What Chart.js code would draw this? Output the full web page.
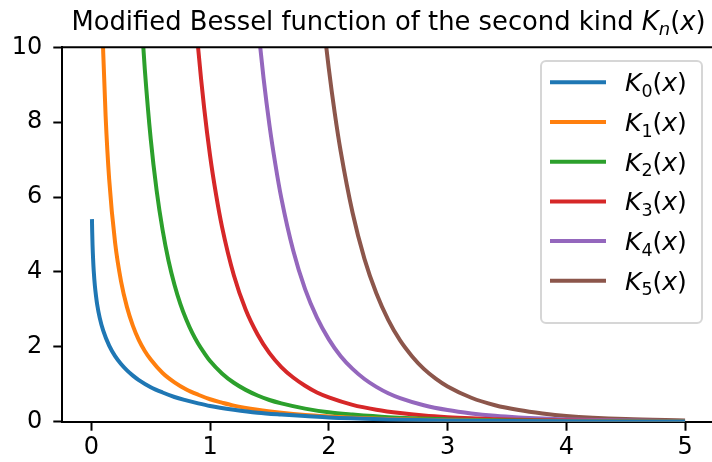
<!DOCTYPE html>
<html>
<head>
<meta charset="utf-8">
<title>Modified Bessel function of the second kind</title>
<script src="https://cdn.jsdelivr.net/npm/chart.js@4.4.1/dist/chart.umd.min.js"></script>
<style>
  html, body { margin: 0; padding: 0; background: #fff; overflow: hidden; }
  #wrap { width: 720px; height: 462px; }
</style>
</head>
<body>
<div id="wrap"><canvas id="chart" width="720" height="462"></canvas></div>
<script>
// --- Data ---
const k0X = [0.005, 0.007, 0.01, 0.015, 0.02, 0.03, 0.04, 0.05, 0.07, 0.1, 0.15, 0.2, 0.25, 0.3, 0.35, 0.4, 0.5, 0.6, 0.7, 0.8, 0.9, 1.0, 1.2, 1.4, 1.6, 1.8, 2.0, 2.5, 3.0, 3.5, 4.0, 4.5, 5.0];
const k0Y = [5.41, 5.08, 4.72, 4.32, 4.03, 3.62, 3.34, 3.11, 2.78, 2.43, 2.03, 1.75, 1.54, 1.37, 1.23, 1.11, 0.92, 0.78, 0.66, 0.57, 0.49, 0.42, 0.32, 0.24, 0.19, 0.15, 0.11, 0.062, 0.035, 0.020, 0.011, 0.0064, 0.0037];

const k1X = [0.09, 0.1, 0.12, 0.15, 0.2, 0.25, 0.3, 0.35, 0.4, 0.45, 0.5, 0.6, 0.7, 0.8, 0.9, 1.0, 1.1, 1.2, 1.4, 1.6, 1.8, 2.0, 2.2, 2.5, 3.0, 3.5, 4.0, 4.5, 5.0];
const k1Y = [10.97, 9.85, 8.17, 6.48, 4.78, 3.75, 3.06, 2.56, 2.18, 1.89, 1.66, 1.30, 1.05, 0.86, 0.72, 0.60, 0.51, 0.43, 0.32, 0.24, 0.18, 0.14, 0.108, 0.074, 0.040, 0.022, 0.0125, 0.0071, 0.0040];

const k2X = [0.42, 0.45, 0.5, 0.55, 0.6, 0.65, 0.7, 0.75, 0.8, 0.85, 0.9, 0.95, 1.0, 1.1, 1.2, 1.3, 1.4, 1.5, 1.6, 1.8, 2.0, 2.2, 2.5, 3.0, 3.5, 4.0, 4.5, 5.0];
const k2Y = [10.85, 9.42, 7.55, 6.17, 5.12, 4.30, 3.66, 3.14, 2.72, 2.37, 2.08, 1.84, 1.62, 1.29, 1.04, 0.85, 0.70, 0.58, 0.49, 0.35, 0.25, 0.19, 0.12, 0.062, 0.032, 0.017, 0.0095, 0.0053];

const k3X = [0.85, 0.9, 0.95, 1.0, 1.05, 1.1, 1.2, 1.3, 1.4, 1.5, 1.6, 1.7, 1.8, 1.9, 2.0, 2.2, 2.4, 2.6, 2.8, 3.0, 3.2, 3.4, 3.6, 3.8, 4.0, 4.5, 5.0];
const k3Y = [11.95, 9.96, 8.38, 7.10, 6.07, 5.21, 3.91, 2.99, 2.33, 1.83, 1.46, 1.18, 0.96, 0.78, 0.65, 0.45, 0.32, 0.23, 0.166, 0.122, 0.091, 0.068, 0.052, 0.039, 0.030, 0.0155, 0.0083];

const k4X = [1.4, 1.45, 1.5, 1.55, 1.6, 1.7, 1.8, 1.9, 2.0, 2.1, 2.2, 2.3, 2.4, 2.5, 2.6, 2.8, 3.0, 3.2, 3.4, 3.6, 3.8, 4.0, 4.5, 5.0];
const k4Y = [10.68, 9.18, 7.92, 6.87, 5.97, 4.57, 3.54, 2.78, 2.20, 1.75, 1.41, 1.14, 0.93, 0.76, 0.63, 0.44, 0.31, 0.22, 0.157, 0.114, 0.084, 0.062, 0.030, 0.015];

const k5X = [1.9, 1.95, 2.0, 2.05, 2.1, 2.2, 2.3, 2.4, 2.5, 2.6, 2.7, 2.8, 2.9, 3.0, 3.2, 3.4, 3.6, 3.8, 4.0, 4.5, 5.0];
const k5Y = [12.47, 10.83, 9.43, 8.24, 7.22, 5.58, 4.35, 3.43, 2.72, 2.17, 1.75, 1.41, 1.15, 0.94, 0.64, 0.44, 0.31, 0.22, 0.155, 0.069, 0.033];

const seriesOrder = ['0', '1', '2', '3', '4', '5'];
const seriesColors = ['#1f77b4', '#ff7f0e', '#2ca02c', '#d62728', '#9467bd', '#8c564b'];
const xTicks = [0, 1, 2, 3, 4, 5];
const yTicks = [0, 2, 4, 6, 8, 10];

const FONT = "'DejaVu Sans', sans-serif";

// --- Helpers ---
const toPoints = (xs, ys) => xs.map((x, i) => ({ x: x, y: ys[i] }));

// draws a run of text parts: { t, italic, sub }
function drawMath(ctx, parts, x, y, size) {
    let cx = x;
    parts.forEach(p => {
        const s = p.sub ? size * 0.7 : size;
        ctx.font = `${p.italic ? 'italic ' : ''}${s}px ${FONT}`;
        ctx.fillText(p.t, cx, y + (p.sub ? size * 0.22 : 0));
        cx += ctx.measureText(p.t).width;
    });
    return cx - x;
}

function measureMath(ctx, parts, size) {
    let w = 0;
    parts.forEach(p => {
        const s = p.sub ? size * 0.7 : size;
        ctx.font = `${p.italic ? 'italic ' : ''}${s}px ${FONT}`;
        w += ctx.measureText(p.t).width;
    });
    return w;
}

// --- Plugins ---
const framePlugin = {
    id: 'frame',
    afterDatasetsDraw(chart) {
        const { ctx, chartArea } = chart;
        ctx.save();
        ctx.strokeStyle = '#000';
        ctx.lineWidth = 2;
        ctx.beginPath();
        ctx.moveTo(chartArea.left - 1, chartArea.top);
        ctx.lineTo(chartArea.right + 1, chartArea.top);
        ctx.moveTo(chartArea.right, chartArea.top);
        ctx.lineTo(chartArea.right, chartArea.bottom);
        ctx.stroke();
        ctx.restore();
    }
};

const titlePlugin = {
    id: 'mathTitle',
    afterDraw(chart) {
        const { ctx, chartArea } = chart;
        const size = 25.8;
        const parts = [
            { t: 'Modified Bessel function of the second kind ' },
            { t: 'K', italic: true },
            { t: 'n', italic: true, sub: true },
            { t: '(' },
            { t: 'x', italic: true },
            { t: ')' }
        ];
        ctx.save();
        ctx.fillStyle = '#000';
        ctx.textBaseline = 'alphabetic';
        ctx.textAlign = 'left';
        const w = measureMath(ctx, parts, size);
        const cx = (chartArea.left + chartArea.right) / 2;
        drawMath(ctx, parts, cx - w / 2, 29.5, size);
        ctx.restore();
    }
};

const legendPlugin = {
    id: 'mathLegend',
    afterDraw(chart) {
        const { ctx } = chart;
        const box = { x: 541, y: 61, w: 161, h: 262, r: 5 };
        ctx.save();
        ctx.fillStyle = 'rgba(255,255,255,0.8)';
        ctx.strokeStyle = 'rgba(204,204,204,0.8)';
        ctx.lineWidth = 2;
        ctx.beginPath();
        ctx.roundRect(box.x, box.y, box.w, box.h, box.r);
        ctx.fill();
        ctx.stroke();

        chart.data.datasets.forEach((ds, i) => {
            const y = 82.3 + i * 39.7;
            ctx.strokeStyle = ds.borderColor;
            ctx.lineWidth = ds.borderWidth;
            ctx.beginPath();
            ctx.moveTo(550, y);
            ctx.lineTo(606, y);
            ctx.stroke();

            ctx.fillStyle = '#000';
            ctx.textBaseline = 'alphabetic';
            ctx.textAlign = 'left';
            drawMath(ctx, [
                { t: 'K', italic: true },
                { t: seriesOrder[i], sub: true },
                { t: '(' },
                { t: 'x', italic: true },
                { t: ')' }
            ], 625, y + 9, 25);
        });
        ctx.restore();
    }
};

// --- Chart ---
const xs = [k0X, k1X, k2X, k3X, k4X, k5X];
const ys = [k0Y, k1Y, k2Y, k3Y, k4Y, k5Y];

const datasets = seriesOrder.map((n, i) => ({
    label: `K${n}(x)`,
    data: toPoints(xs[i], ys[i]),
    borderColor: seriesColors[i],
    backgroundColor: seriesColors[i],
    borderWidth: 4,
    pointRadius: 0,
    cubicInterpolationMode: 'monotone',
    fill: false
}));

const tickFont = { family: FONT, size: 24 };

new Chart(document.getElementById('chart'), {
    type: 'line',
    data: { datasets: datasets },
    options: {
        responsive: false,
        animation: false,
        devicePixelRatio: 1,
        layout: { padding: { top: 47.3, right: 5.3, left: 0, bottom: 0 } },
        plugins: {
            legend: { display: false },
            title: { display: false },
            tooltip: { enabled: false }
        },
        scales: {
            x: {
                type: 'linear',
                min: -0.2447,
                max: 5.2497,
                afterFit: (scale) => { scale.height = 40.3; },
                afterBuildTicks: (scale) => { scale.ticks = xTicks.map(v => ({ value: v })); },
                ticks: { font: tickFont, color: '#000', padding: 3, maxRotation: 0, includeBounds: false },
                grid: { drawOnChartArea: false, tickLength: 9, tickWidth: 2, tickColor: '#000' },
                border: { display: true, color: '#000', width: 2 }
            },
            y: {
                type: 'linear',
                min: 0,
                max: 10,
                afterFit: (scale) => { scale.width = 62.3; },
                afterBuildTicks: (scale) => { scale.ticks = yTicks.map(v => ({ value: v })); },
                ticks: { font: tickFont, color: '#000', padding: 11 },
                grid: { drawOnChartArea: false, tickLength: 9, tickWidth: 2, tickColor: '#000' },
                border: { display: true, color: '#000', width: 2 }
            }
        }
    },
    plugins: [framePlugin, titlePlugin, legendPlugin]
});
</script>
</body>
</html>
